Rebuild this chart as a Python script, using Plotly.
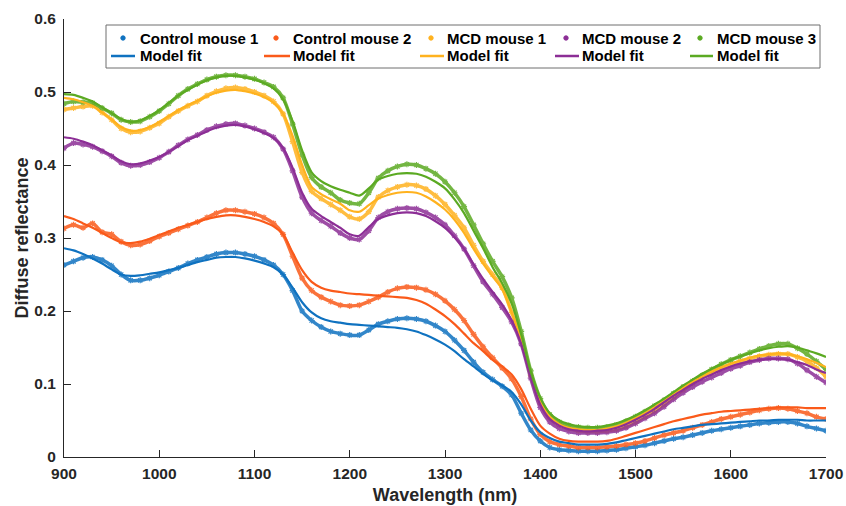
import plotly.graph_objects as go

wavelength = list(range(900, 1701, 10))

control1_data = [0.263,0.268,0.273,0.274,0.270,0.262,0.250,0.242,0.242,0.245,
0.249,0.254,0.259,0.265,0.270,0.274,0.278,0.280,0.280,0.278,
0.275,0.270,0.263,0.250,0.228,0.200,0.187,0.178,0.172,0.169,
0.167,0.167,0.174,0.182,0.186,0.189,0.190,0.189,0.186,0.180,
0.172,0.160,0.146,0.130,0.116,0.106,0.097,0.085,0.060,0.037,
0.022,0.013,0.010,0.009,0.008,0.008,0.008,0.009,0.010,0.012,
0.014,0.016,0.019,0.022,0.025,0.027,0.030,0.033,0.036,0.038,
0.040,0.042,0.044,0.046,0.047,0.048,0.048,0.046,0.042,0.039,0.036]
control1_fit = [0.286,0.283,0.278,0.272,0.265,0.257,0.250,0.248,0.249,0.251,
0.253,0.256,0.259,0.263,0.267,0.270,0.273,0.274,0.274,0.272,
0.269,0.265,0.260,0.250,0.232,0.212,0.198,0.190,0.186,0.184,
0.182,0.181,0.180,0.179,0.178,0.177,0.175,0.172,0.167,0.161,
0.154,0.145,0.134,0.124,0.114,0.105,0.098,0.089,0.072,0.050,
0.034,0.026,0.021,0.019,0.017,0.017,0.017,0.018,0.020,0.023,
0.026,0.029,0.032,0.035,0.038,0.040,0.042,0.044,0.045,0.046,
0.047,0.048,0.049,0.050,0.050,0.051,0.051,0.051,0.050,0.050,0.050]
control2_data = [0.313,0.318,0.314,0.320,0.308,0.305,0.295,0.290,0.291,0.296,
0.302,0.307,0.312,0.317,0.322,0.328,0.334,0.338,0.338,0.336,
0.333,0.328,0.320,0.305,0.275,0.245,0.228,0.219,0.213,0.208,
0.207,0.208,0.213,0.219,0.226,0.231,0.233,0.232,0.229,0.223,
0.214,0.202,0.187,0.168,0.151,0.136,0.122,0.107,0.083,0.052,
0.031,0.021,0.017,0.015,0.013,0.013,0.013,0.014,0.015,0.017,
0.019,0.022,0.026,0.030,0.033,0.036,0.040,0.044,0.048,0.052,
0.055,0.058,0.061,0.064,0.066,0.067,0.066,0.063,0.060,0.055,0.052]
control2_fit = [0.330,0.326,0.320,0.314,0.307,0.300,0.294,0.293,0.295,0.299,
0.304,0.309,0.314,0.318,0.322,0.326,0.329,0.331,0.331,0.329,
0.326,0.322,0.316,0.305,0.280,0.256,0.240,0.232,0.228,0.226,
0.224,0.223,0.222,0.221,0.220,0.219,0.218,0.215,0.210,0.202,
0.193,0.182,0.169,0.156,0.145,0.133,0.124,0.113,0.093,0.066,
0.043,0.032,0.025,0.022,0.021,0.021,0.021,0.022,0.025,0.029,
0.033,0.037,0.041,0.045,0.049,0.052,0.055,0.058,0.060,0.062,
0.063,0.064,0.065,0.066,0.067,0.068,0.068,0.068,0.067,0.067,0.067]
mcd1_data = [0.476,0.478,0.480,0.481,0.472,0.462,0.450,0.445,0.446,0.451,
0.457,0.466,0.474,0.481,0.487,0.495,0.501,0.505,0.506,0.504,
0.500,0.495,0.487,0.470,0.432,0.390,0.364,0.354,0.346,0.338,
0.329,0.326,0.336,0.356,0.365,0.370,0.373,0.372,0.367,0.358,
0.346,0.331,0.314,0.290,0.268,0.250,0.232,0.198,0.162,0.112,
0.074,0.053,0.044,0.039,0.036,0.035,0.035,0.036,0.038,0.042,
0.048,0.055,0.063,0.072,0.082,0.092,0.101,0.109,0.116,0.122,
0.127,0.131,0.135,0.138,0.140,0.141,0.141,0.137,0.131,0.122,0.110]
mcd1_fit = [0.492,0.490,0.486,0.481,0.472,0.462,0.452,0.447,0.448,0.452,
0.459,0.467,0.475,0.482,0.488,0.494,0.499,0.502,0.503,0.501,
0.498,0.493,0.485,0.470,0.440,0.400,0.370,0.360,0.353,0.347,
0.338,0.336,0.345,0.354,0.359,0.362,0.363,0.362,0.357,0.349,
0.339,0.325,0.307,0.285,0.265,0.247,0.230,0.198,0.160,0.113,
0.076,0.055,0.045,0.040,0.038,0.037,0.037,0.039,0.042,0.047,
0.053,0.060,0.068,0.077,0.086,0.095,0.103,0.110,0.117,0.123,
0.128,0.132,0.136,0.139,0.141,0.142,0.141,0.138,0.134,0.129,0.123]
mcd2_data = [0.423,0.430,0.428,0.425,0.419,0.412,0.403,0.399,0.400,0.404,
0.410,0.418,0.427,0.435,0.441,0.448,0.453,0.456,0.457,0.454,
0.450,0.445,0.438,0.422,0.392,0.356,0.334,0.324,0.316,0.307,
0.300,0.298,0.310,0.328,0.336,0.340,0.341,0.340,0.335,0.328,
0.318,0.303,0.285,0.262,0.240,0.223,0.205,0.185,0.155,0.108,
0.068,0.048,0.039,0.035,0.033,0.033,0.033,0.034,0.036,0.040,
0.046,0.053,0.060,0.069,0.079,0.088,0.096,0.103,0.109,0.115,
0.121,0.125,0.130,0.133,0.135,0.135,0.134,0.128,0.119,0.110,0.102]
mcd2_fit = [0.438,0.436,0.432,0.427,0.420,0.413,0.405,0.401,0.402,0.406,
0.411,0.418,0.426,0.434,0.440,0.446,0.451,0.454,0.455,0.453,
0.449,0.444,0.437,0.423,0.396,0.362,0.340,0.330,0.322,0.314,
0.305,0.303,0.315,0.326,0.331,0.334,0.335,0.334,0.330,0.323,
0.314,0.301,0.285,0.264,0.244,0.226,0.209,0.187,0.155,0.110,
0.072,0.052,0.043,0.038,0.036,0.035,0.036,0.037,0.040,0.045,
0.051,0.058,0.066,0.075,0.084,0.092,0.100,0.107,0.113,0.119,
0.124,0.128,0.131,0.133,0.134,0.134,0.133,0.130,0.126,0.120,0.115]
mcd3_data = [0.484,0.487,0.486,0.485,0.478,0.471,0.462,0.459,0.460,0.466,
0.474,0.484,0.495,0.504,0.511,0.517,0.521,0.523,0.523,0.521,
0.518,0.513,0.507,0.492,0.456,0.414,0.383,0.370,0.362,0.352,
0.348,0.347,0.362,0.382,0.392,0.398,0.401,0.400,0.395,0.388,
0.377,0.362,0.343,0.318,0.292,0.268,0.247,0.218,0.172,0.118,
0.080,0.058,0.048,0.043,0.041,0.040,0.040,0.041,0.044,0.049,
0.055,0.062,0.070,0.078,0.087,0.096,0.104,0.112,0.120,0.127,
0.133,0.138,0.143,0.148,0.152,0.155,0.155,0.149,0.141,0.131,0.120]
mcd3_fit = [0.497,0.496,0.492,0.487,0.479,0.471,0.463,0.459,0.461,0.467,
0.475,0.485,0.495,0.503,0.510,0.516,0.520,0.522,0.522,0.520,
0.517,0.512,0.505,0.490,0.460,0.420,0.390,0.378,0.371,0.366,
0.362,0.358,0.368,0.380,0.385,0.388,0.389,0.388,0.384,0.377,
0.368,0.353,0.334,0.310,0.286,0.260,0.238,0.210,0.168,0.117,
0.081,0.060,0.050,0.045,0.042,0.041,0.041,0.043,0.046,0.051,
0.057,0.064,0.072,0.080,0.089,0.098,0.106,0.114,0.121,0.127,
0.133,0.138,0.142,0.146,0.149,0.151,0.152,0.150,0.146,0.142,0.137]

names = ["Control mouse 1", "Control mouse 2", "MCD mouse 1", "MCD mouse 2", "MCD mouse 3"]
fit_label = "Model fit"
data_series = [control1_data, control2_data, mcd1_data, mcd2_data, mcd3_data]
fit_series = [control1_fit, control2_fit, mcd1_fit, mcd2_fit, mcd3_fit]
colors = ["#0F72C0", "#FA5A1A", "#FFB21E", "#8C2E96", "#5BAA22"]

TXT = "#262626"
FONT = "Liberation Sans, Arial, sans-serif"

FIG_W, FIG_H = 846, 506
# plot area in pixels
L, R, T, B = 64, 826, 19, 457
W, H = R - L, B - T
def px(x):
    return (x - L) / W
def py(y):
    return (B - y) / H

fig = go.Figure()

# measured data (dense markers band)
for name, ys, c in zip(names, data_series, colors):
    fig.add_trace(go.Scatter(
        x=wavelength, y=ys, mode="lines+markers", name=name, showlegend=False,
        line=dict(color=c, width=3.5, shape="spline", smoothing=0.8),
        marker=dict(symbol="asterisk-open", size=5, color=c, line=dict(color=c, width=1.2)),
        opacity=0.85))

# model fits
for ys, c in zip(fit_series, colors):
    fig.add_trace(go.Scatter(
        x=wavelength, y=ys, mode="lines", name=fit_label, showlegend=False,
        line=dict(color=c, width=2.2, shape="spline", smoothing=0.8)))

# legend box (two rows: data markers, model-fit lines)
shapes = [dict(type="rect", xref="paper", yref="paper",
               x0=px(106), x1=px(820), y0=py(68), y1=py(25),
               line=dict(color="#6e6e6e", width=1), fillcolor="white", layer="above")]
annotations = []
col_marker = [123, 276, 431, 566, 700]
col_text = [138, 291, 445, 580, 715]
col_line = [(111, 135), (264, 290), (420, 444), (555, 579), (690, 713)]
row1, row2 = 38, 56
for i, (name, c) in enumerate(zip(names, colors)):
    m = col_marker[i]
    shapes.append(dict(type="circle", xref="paper", yref="paper",
                       x0=px(m - 2.2), x1=px(m + 2.2), y0=py(row1 + 2.2), y1=py(row1 - 2.2),
                       line=dict(color=c, width=1), fillcolor=c, layer="above"))
    annotations.append(dict(text=name, xref="paper", yref="paper",
                            x=px(col_text[i]), y=py(row1), xanchor="left", yanchor="middle",
                            showarrow=False, font=dict(family=FONT, size=15, color="#000000", weight="bold")))
    a, b = col_line[i]
    shapes.append(dict(type="line", xref="paper", yref="paper",
                       x0=px(a), x1=px(b), y0=py(row2), y1=py(row2),
                       line=dict(color=c, width=2.5), layer="above"))
    annotations.append(dict(text=fit_label, xref="paper", yref="paper",
                            x=px(col_text[i]), y=py(row2), xanchor="left", yanchor="middle",
                            showarrow=False, font=dict(family=FONT, size=15, color="#000000", weight="bold")))

fig.update_layout(
    width=FIG_W, height=FIG_H,
    margin=dict(l=L, r=FIG_W - R, t=T, b=FIG_H - B, autoexpand=False),
    paper_bgcolor="white", plot_bgcolor="white",
    font=dict(family=FONT, color=TXT, size=15),
    showlegend=False,
    shapes=shapes, annotations=annotations,
)

fig.update_xaxes(
    range=[900, 1700], tickvals=list(range(900, 1701, 100)),
    showline=True, linecolor=TXT, linewidth=1, mirror=False,
    ticks="inside", ticklen=7, tickcolor=TXT, showgrid=False, zeroline=False,
    automargin=False, ticklabeloverflow="allow", ticklabelstandoff=2,
    tickfont=dict(family=FONT, size=15.5, color=TXT, weight="bold"),
    title=dict(text="Wavelength (nm)", font=dict(family=FONT, size=18, color=TXT, weight="bold"), standoff=7),
)
fig.update_yaxes(
    range=[0, 0.6], tickvals=[0, 0.1, 0.2, 0.3, 0.4, 0.5, 0.6],
    ticktext=["0", "0.1", "0.2", "0.3", "0.4", "0.5", "0.6"],
    showline=True, linecolor=TXT, linewidth=1, mirror=False,
    ticks="inside", ticklen=7, tickcolor=TXT, showgrid=False, zeroline=False,
    automargin=False, ticklabeloverflow="allow", ticklabelstandoff=4,
    tickfont=dict(family=FONT, size=15.5, color=TXT, weight="bold"),
    title=dict(text="Diffuse reflectance", font=dict(family=FONT, size=18, color=TXT, weight="bold"), standoff=1),
)

fig.write_html(
    "out.html",
    config={"displayModeBar": False},
    post_script="document.body.style.margin='0px';document.body.style.overflow='hidden';",
)
